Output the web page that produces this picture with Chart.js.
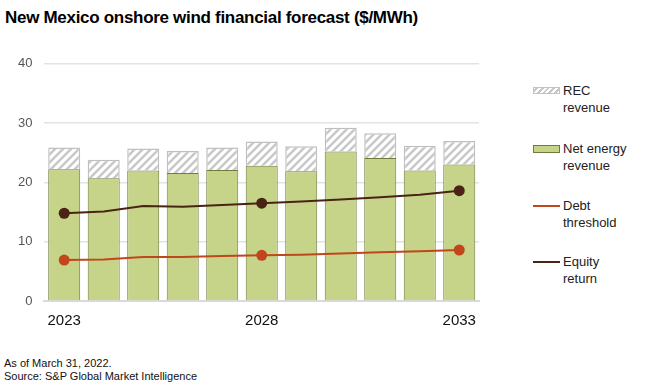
<!DOCTYPE html>
<html>
<head>
<meta charset="utf-8">
<script src="https://cdn.jsdelivr.net/npm/chart.js@4"></script>
<style>
  body { margin: 0; width: 660px; height: 392px; background: #fff; font-family: "Liberation Sans", Arial, sans-serif; color: #000; position: relative; overflow: hidden; }
  #title { position: absolute; left: 5px; top: 8px; font-size: 17px; font-weight: bold; letter-spacing: -0.3px; }
  #wrap { position: absolute; left: 0; top: 44px; width: 490px; height: 289px; }
  #legend { position: absolute; left: 533px; top: 0; }
  .item { position: absolute; left: 0; width: 130px; }
  .item .sw { position: absolute; left: 0; width: 27px; }
  .item .txt { position: absolute; left: 30px; font-size: 13px; line-height: 17px; color: #222; white-space: nowrap; }
  #foot { position: absolute; left: 4px; top: 357px; font-size: 11px; line-height: 13px; color: #111; }
</style>
</head>
<body>
<div id="title">New Mexico onshore wind financial forecast ($/MWh)</div>
<div id="wrap"><canvas id="chart"></canvas></div>
<div id="legend">
  <div class="item" style="top:82px"><div class="sw" style="top:5px;height:7px;border:1px solid #c4c4c4;box-sizing:border-box;background:repeating-linear-gradient(-45deg,#fff 0 2px,#c8c8c8 2px 4px)"></div><div class="txt" style="top:0">REC<br>revenue</div></div>
  <div class="item" style="top:140px"><div class="sw" style="top:5px;height:8px;border:1px solid #6f7d3c;box-sizing:border-box;background:#c5d488"></div><div class="txt" style="top:0">Net energy<br>revenue</div></div>
  <div class="item" style="top:197px"><div class="sw" style="top:8px;height:2px;background:#c2461b"></div><div class="txt" style="top:0">Debt<br>threshold</div></div>
  <div class="item" style="top:253px"><div class="sw" style="top:8px;height:2px;background:#4a2314"></div><div class="txt" style="top:0">Equity<br>return</div></div>
</div>
<div id="foot">As of March 31, 2022.<br>Source: S&amp;P Global Market Intelligence</div>
<script>
// ==============================
// DATA
// ==============================
const years = ['2023', '2024', '2025', '2026', '2027', '2028', '2029', '2030', '2031', '2032', '2033'];
const netEnergy = [22.2, 20.7, 22.0, 21.6, 22.1, 22.8, 21.9, 25.2, 24.1, 22.0, 23.0];
const recRevenue = [3.7, 3.1, 3.7, 3.7, 3.8, 4.1, 4.2, 4.0, 4.2, 4.2, 4.0];
const debtThreshold = [6.9, 7.0, 7.4, 7.4, 7.6, 7.7, 7.8, 8.0, 8.2, 8.4, 8.6];
const equityReturn = [14.8, 15.1, 16.0, 15.9, 16.2, 16.5, 16.8, 17.1, 17.5, 17.9, 18.6];
const shownYears = ['2023', '2028', '2033'];

// hatch pattern for REC bars
function hatch() {
  const c = document.createElement('canvas');
  c.width = 8; c.height = 8;
  const g = c.getContext('2d');
  g.fillStyle = '#fff';
  g.fillRect(0, 0, 8, 8);
  g.strokeStyle = '#c8c8c8';
  g.lineWidth = 2.5;
  g.beginPath();
  g.moveTo(-2, 10); g.lineTo(10, -2);
  g.moveTo(-2, 2); g.lineTo(2, -2);
  g.moveTo(6, 10); g.lineTo(10, 6);
  g.stroke();
  return g.createPattern(c, 'repeat');
}

const markerAt = years.map(y => shownYears.includes(y) ? 5.5 : 0);

new Chart(document.getElementById('chart'), {
  type: 'bar',
  data: {
    labels: years,
    datasets: [
      {
        type: 'line', label: 'Equity return', data: equityReturn, stack: 'eq', order: 0,
        borderColor: '#4a2314', backgroundColor: '#4a2314', borderWidth: 2,
        pointRadius: markerAt, pointHoverRadius: markerAt, pointBorderWidth: 0, tension: 0
      },
      {
        type: 'line', label: 'Debt threshold', data: debtThreshold, stack: 'debt', order: 0,
        borderColor: '#c2461b', backgroundColor: '#c2461b', borderWidth: 2,
        pointRadius: markerAt, pointHoverRadius: markerAt, pointBorderWidth: 0, tension: 0
      },
      {
        label: 'Net energy revenue', data: netEnergy, stack: 'rev', order: 1,
        backgroundColor: '#c5d488', borderColor: '#6f7d3c', borderWidth: 1,
        barPercentage: 0.81, categoryPercentage: 1
      },
      {
        label: 'REC revenue', data: recRevenue, stack: 'rev', order: 1,
        backgroundColor: hatch(), borderColor: '#c0c0c0', borderWidth: 1.5,
        barPercentage: 0.81, categoryPercentage: 1
      }
    ]
  },
  options: {
    responsive: true,
    maintainAspectRatio: false,
    animation: false,
    layout: { padding: { top: 15, right: 11, left: 6, bottom: 0 } },
    plugins: { legend: { display: false }, tooltip: { enabled: false } },
    scales: {
      x: {
        stacked: true,
        grid: { display: false },
        border: { color: '#d9d9d9', width: 2 },
        ticks: {
          autoSkip: false, maxRotation: 0, color: '#111', padding: 3,
          font: { family: 'Liberation Sans', size: 15 },
          callback: (v, i) => shownYears.includes(years[i]) ? years[i] : ''
        }
      },
      y: {
        stacked: true,
        min: 0, max: 40,
        grid: { color: '#e3e3e3', lineWidth: 1.5, drawTicks: false },
        border: { display: false },
        ticks: {
          stepSize: 10, color: '#555', padding: 12,
          font: { family: 'Liberation Sans', size: 13 }
        }
      }
    }
  }
});
</script>
</body>
</html>
